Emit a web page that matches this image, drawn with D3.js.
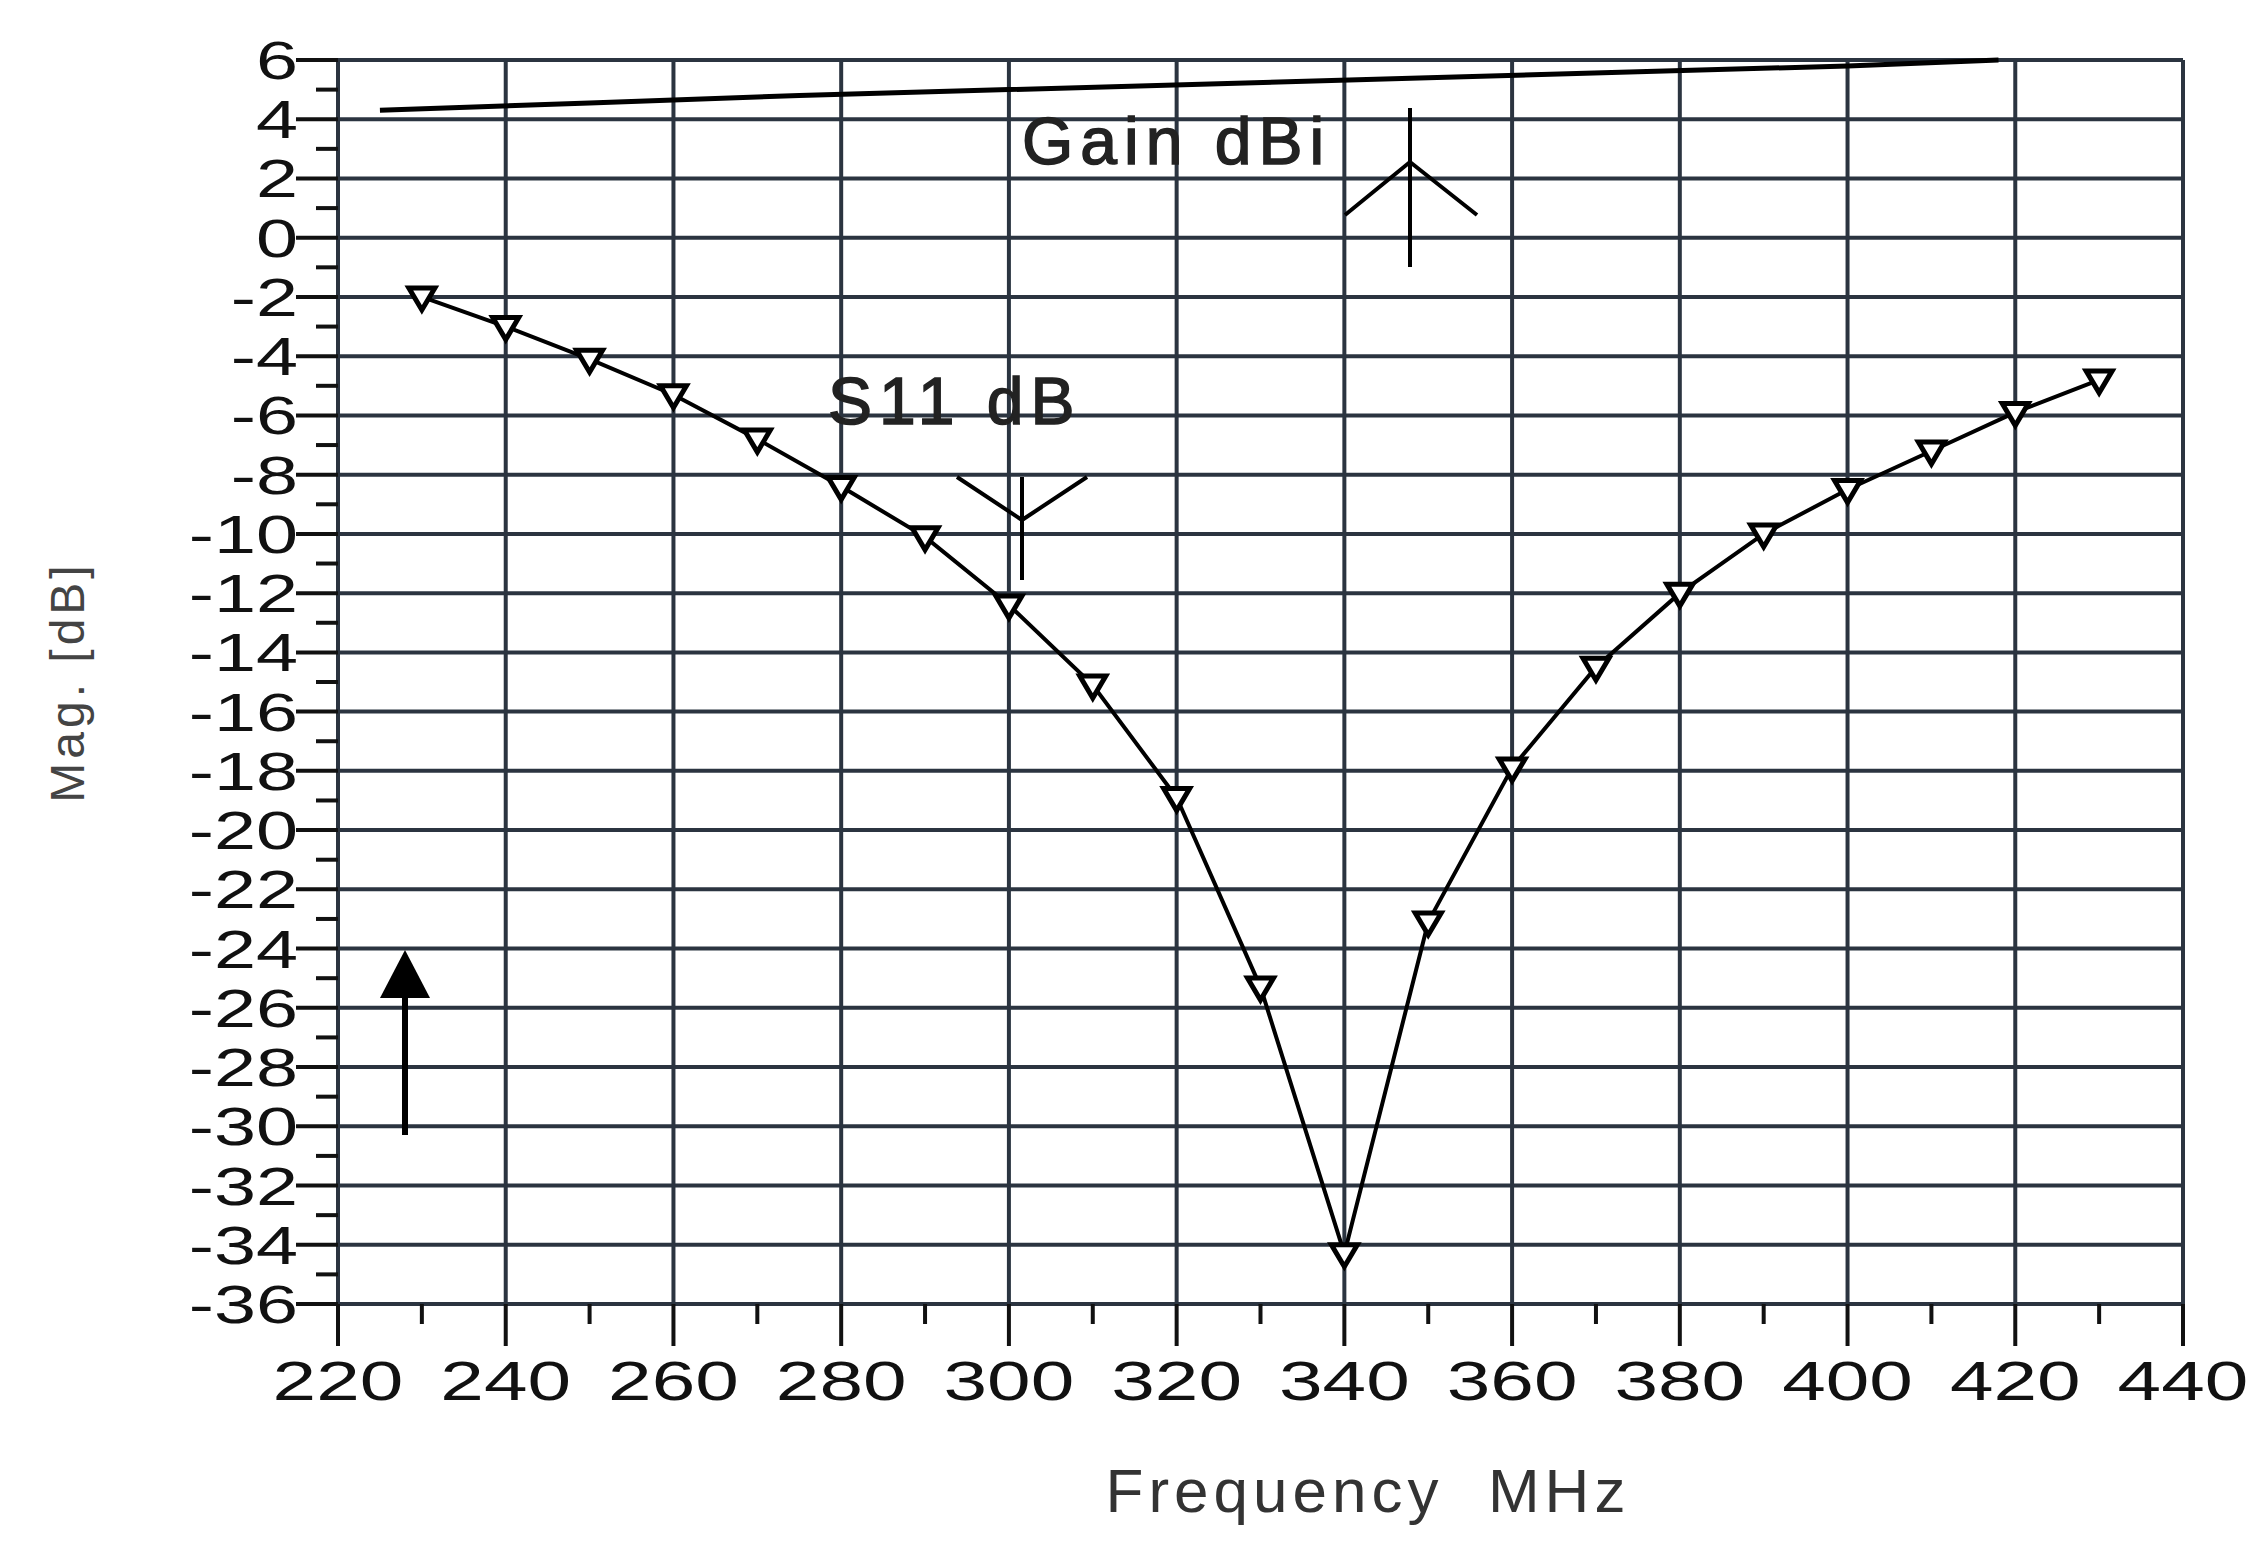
<!DOCTYPE html>
<html>
<head>
<meta charset="utf-8">
<script src="https://cdn.jsdelivr.net/npm/d3@7"></script>
<style>
body { margin: 0; background: #fff; }
text { font-family: "Liberation Sans", Arial, sans-serif; }
</style>
</head>
<body>
<svg id="chart" width="2258" height="1542"></svg>
<script>
// S11 samples every 10 MHz
var freqs = [230, 240, 250, 260, 270, 280, 290, 300, 310, 320, 330, 340, 350, 360, 370, 380, 390, 400, 410, 420, 430];
var s11 = [-2.0, -3.0, -4.1, -5.3, -6.8, -8.4, -10.1, -12.4, -15.1, -18.9, -25.3, -34.3, -23.1, -17.9, -14.5, -12.0, -10.0, -8.5, -7.2, -5.9, -4.8];
// gain curve
var gainFreqs = [225, 250, 275, 300, 325, 350, 375, 400, 418];
var gain = [4.3, 4.55, 4.8, 5.0, 5.2, 5.4, 5.6, 5.8, 6.0];
var xTicks = [220, 240, 260, 280, 300, 320, 340, 360, 380, 400, 420, 440];
var yTicks = d3.range(-36, 7, 2);

var svg = d3.select("#chart");
var x = d3.scaleLinear().domain([220, 440]).range([338, 2183]);
var y = d3.scaleLinear().domain([-36, 6]).range([1304, 60]);
var grid = "#2b3440";

//grid
svg.selectAll(".hg").data(yTicks).enter().append("line")
    .attr("x1", x(220)).attr("x2", x(440))
    .attr("y1", d => y(d)).attr("y2", d => y(d))
    .attr("stroke", grid).attr("stroke-width", 4);
svg.selectAll(".vg").data(xTicks).enter().append("line")
    .attr("x1", d => x(d)).attr("x2", d => x(d))
    .attr("y1", y(6)).attr("y2", y(-36))
    .attr("stroke", grid).attr("stroke-width", 4);

// y axis ticks + labels
svg.selectAll(".yt").data(yTicks).enter().append("line")
    .attr("x1", x(220) - 42).attr("x2", x(220))
    .attr("y1", d => y(d)).attr("y2", d => y(d))
    .attr("stroke", "#111").attr("stroke-width", 4);
svg.selectAll(".ym").data(d3.range(-35, 6, 2)).enter().append("line")
    .attr("x1", x(220) - 22).attr("x2", x(220))
    .attr("y1", d => y(d)).attr("y2", d => y(d))
    .attr("stroke", "#111").attr("stroke-width", 4);
svg.selectAll(".yl").data(yTicks).enter().append("text")
    .attr("transform", d => "translate(" + (x(220) - 40) + "," + (y(d) + 19) + ") scale(1.4,1)")
    .attr("text-anchor", "end").attr("font-size", 54).attr("fill", "#111")
    .text(d => d);

// x axis ticks + labels
svg.selectAll(".xt").data(xTicks).enter().append("line")
    .attr("x1", d => x(d)).attr("x2", d => x(d))
    .attr("y1", y(-36)).attr("y2", y(-36) + 42)
    .attr("stroke", "#111").attr("stroke-width", 4);
svg.selectAll(".xm").data(d3.range(230, 440, 20)).enter().append("line")
    .attr("x1", d => x(d)).attr("x2", d => x(d))
    .attr("y1", y(-36)).attr("y2", y(-36) + 20)
    .attr("stroke", "#111").attr("stroke-width", 4);
svg.selectAll(".xl").data(xTicks).enter().append("text")
    .attr("transform", d => "translate(" + x(d) + "," + (y(-36) + 96) + ") scale(1.4,1)")
    .attr("text-anchor", "middle").attr("font-size", 56).attr("fill", "#111")
    .text(d => d);

svg.append("text").attr("x", 1368).attr("y", 1512).attr("text-anchor", "middle")
    .attr("font-size", 62).attr("letter-spacing", 5).attr("fill", "#333").attr("xml:space", "preserve")
    .text("Frequency  MHz");
svg.append("text").attr("transform", "translate(84,682) rotate(-90)")
    .attr("text-anchor", "middle").attr("font-size", 48).attr("letter-spacing", 4).attr("fill", "#444")
    .text("Mag. [dB]");

// gain line
var line = d3.line().x(d => x(d[0])).y(d => y(d[1]));
svg.append("path").datum(gainFreqs.map((f, i) => [f, gain[i]]))
    .attr("d", line).attr("fill", "none").attr("stroke", "#000").attr("stroke-width", 5);

// s11 line + markers
var pts = freqs.map((f, i) => [f, s11[i]]);
svg.append("path").datum(pts).attr("d", line)
    .attr("fill", "none").attr("stroke", "#000").attr("stroke-width", 4);
svg.selectAll(".mk").data(pts).enter().append("path")
    .attr("transform", d => "translate(" + x(d[0]) + "," + y(d[1]) + ")")
    .attr("d", "M-13,-9 L13,-9 L0,13 Z")
    .attr("fill", "#fff").attr("stroke", "#000").attr("stroke-width", 5);

// labels with antenna symbols
svg.append("text").attr("x", 1022).attr("y", 164).attr("font-size", 66).attr("letter-spacing", 7)
    .attr("fill", "#222").attr("stroke", "#222").attr("stroke-width", 1.5).text("Gain dBi");
svg.append("path").attr("d", "M1410,108 V267 M1345,215 L1410,162 L1477,215")
    .attr("fill", "none").attr("stroke", "#000").attr("stroke-width", 4);
svg.append("text").attr("x", 828).attr("y", 424).attr("font-size", 66).attr("letter-spacing", 7)
    .attr("fill", "#222").attr("stroke", "#222").attr("stroke-width", 1.5).text("S11 dB");
svg.append("path").attr("d", "M1022,477 V580 M957,477 L1022,520 L1087,477")
    .attr("fill", "none").attr("stroke", "#000").attr("stroke-width", 4);

// arrow
svg.append("line").attr("x1", 405).attr("x2", 405).attr("y1", 1135).attr("y2", 990)
    .attr("stroke", "#000").attr("stroke-width", 6);
svg.append("path").attr("d", "M380,998 L430,998 L405,950 Z").attr("fill", "#000");
</script>
</body>
</html>
